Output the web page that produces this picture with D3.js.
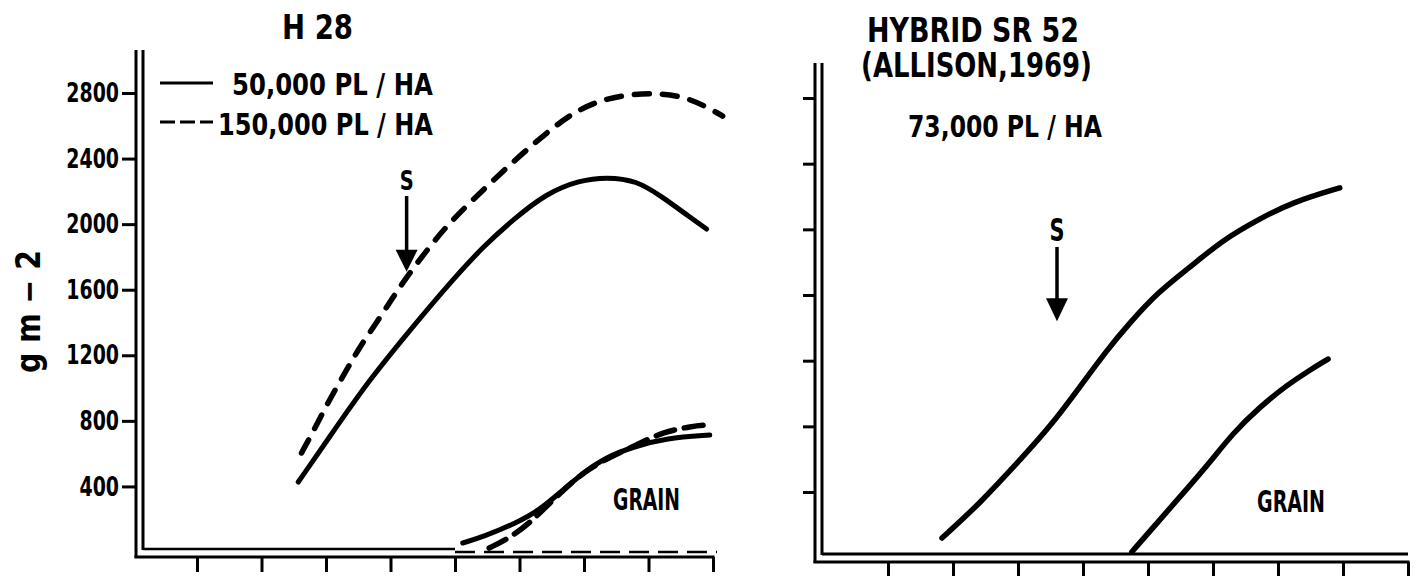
<!DOCTYPE html>
<html><head><meta charset="utf-8">
<script src="https://cdn.jsdelivr.net/npm/d3@7"></script>
<style>body{margin:0;background:#fff}</style>
</head><body>
<svg id="c" width="1428" height="579"></svg>
<script>
// ---------- data ----------
const yTicks = [400, 800, 1200, 1600, 2000, 2400, 2800];
const yTickLabels = ["400", "800", "1200", "1600", "2000", "2400", "2800"];
const xTicks = [1, 2, 3, 4, 5, 6, 7, 8, 9];

// H 28 panel — total dry matter
const h28Total50T = [2.57, 3.16, 3.67, 4.34, 4.96, 5.43, 5.89, 6.42, 6.93, 7.35, 7.81, 8.22, 8.64, 8.9];
const h28Total50V = [427, 762, 1049, 1372, 1659, 1860, 2024, 2189, 2268, 2287, 2268, 2165, 2043, 1970];
const h28Total150T = [2.62, 2.79, 3.05, 3.32, 3.52, 3.78, 4.03, 4.25, 4.6, 4.91, 5.27, 5.64, 6.05, 6.47, 6.82, 7.24, 7.71, 8.22, 8.64, 9.05, 9.15];
const h28Total150V = [604, 726, 927, 1110, 1250, 1396, 1549, 1677, 1860, 2006, 2146, 2285, 2433, 2573, 2677, 2756, 2793, 2799, 2768, 2683, 2659];
// H 28 panel — grain
const h28Grain50T = [5.12, 5.43, 5.95, 6.31, 6.62, 6.98, 7.35, 7.75, 8.28, 8.95];
const h28Grain50V = [55, 91, 177, 256, 360, 482, 579, 640, 695, 713];
const h28Grain150T = [5.53, 5.84, 6.16, 6.47, 6.73, 7.04, 7.4, 7.81, 8.22, 8.68, 8.9];
const h28Grain150V = [24, 85, 177, 299, 396, 500, 579, 652, 732, 768, 774];

// SR 52 panel (73,000 pl/ha)
const sr52TotalT = [1.83, 2.42, 3.03, 3.49, 3.95, 4.37, 4.72, 5.14, 5.65, 6.15, 6.68, 7.23, 7.95];
const sr52TotalV = [120, 333, 595, 796, 1039, 1266, 1430, 1613, 1771, 1935, 2057, 2167, 2253];
const sr52GrainT = [4.75, 5.18, 5.6, 5.95, 6.31, 6.72, 7.14, 7.49, 7.77];
const sr52GrainV = [35, 230, 420, 580, 760, 918, 1052, 1143, 1210];

// silking arrows (time, value at arrow tip)
const silkH28 = [4.25, 1710];
const silkSR52 = [3.6, 1440];

const legendLabels = ["50,000 PL / HA", "150,000 PL / HA"];

// ---------- drawing ----------
const FONT = "'DejaVu Sans Condensed','Liberation Sans Narrow',sans-serif";
const svg = d3.select("#c");
svg.append("rect").attr("width", 1428).attr("height", 579).attr("fill", "#fff");

const xL = d3.scaleLinear([0, 9], [132.5, 713]);
const yL = d3.scaleLinear([0, 2800], [552, 93]);
const xR = d3.scaleLinear([0, 9], [823, 1408]);
const yR = d3.scaleLinear([0, 2800], [557.7, 98]);

// text drawn at its natural size, then squeezed horizontally to the lettering's width
function txt(x, y, s, size, width, anchor, rot) {
  const t = svg.append("text").attr("x", 0).attr("y", 0).text(s)
    .attr("font-family", FONT).attr("font-weight", "bold")
    .attr("font-size", size).attr("fill", "#000")
    .attr("text-anchor", anchor || "start");
  const w = t.node().getComputedTextLength();
  const sx = width ? width / w : 1;
  t.attr("transform", `translate(${x},${y})` + (rot ? ` rotate(${rot})` : "") + ` scale(${sx},1)`);
  return t;
}
function seg(x1, y1, x2, y2, w, dash) {
  const l = svg.append("line").attr("x1", x1).attr("y1", y1).attr("x2", x2).attr("y2", y2)
    .attr("stroke", "#000").attr("stroke-width", w || 3);
  if (dash) l.attr("stroke-dasharray", dash);
  return l;
}
function styleAxis(g) {
  g.select(".domain").remove();
  g.selectAll(".tick line").attr("stroke", "#000").attr("stroke-width", 3);
  g.selectAll(".tick text").attr("font-family", FONT).attr("font-weight", "bold")
    .attr("font-size", 27).attr("fill", "#000")
    .each(function () {
      const t = d3.select(this);
      const x = +t.attr("x");
      t.attr("x", 0).attr("transform", `translate(${x},0) scale(0.78,1)`);
    });
}

// ---- left panel axes ----
styleAxis(svg.append("g").attr("transform", "translate(136,0)")
  .call(d3.axisLeft(yL).tickValues(yTicks).tickSize(14).tickPadding(3)
    .tickFormat((d, i) => yTickLabels[i])));
styleAxis(svg.append("g").attr("transform", "translate(0,557)")
  .call(d3.axisBottom(xL).tickValues(xTicks).tickSize(15).tickFormat("")));
seg(136, 50, 136, 558);
seg(143, 50, 143, 550);
seg(134.5, 557, 714.5, 557);
seg(143, 549, 455, 549, 2.5);
seg(455, 552, 717, 552, 2.5, "20,9");

// ---- right panel axes ----
styleAxis(svg.append("g").attr("transform", "translate(815,0)")
  .call(d3.axisLeft(yR).tickValues(yTicks).tickSize(12).tickFormat("")));
styleAxis(svg.append("g").attr("transform", "translate(0,562)")
  .call(d3.axisBottom(xR).tickValues(xTicks).tickSize(14).tickFormat("")));
seg(815, 63, 815, 563);
seg(822, 63, 822, 555);
seg(813.5, 562, 1409.5, 562);
seg(822, 554, 1408, 554);

// ---- curves ----
function drawCurve(T, V, xs, ys, width, dash) {
  const pts = T.map((t, i) => [t, V[i]]);
  const line = d3.line().x(d => xs(d[0])).y(d => ys(d[1])).curve(d3.curveBasis);
  const p = svg.append("path").attr("d", line(pts)).attr("fill", "none")
    .attr("stroke", "#000").attr("stroke-width", width)
    .attr("stroke-linecap", "round").attr("stroke-linejoin", "round");
  if (dash) p.attr("stroke-dasharray", dash);
}
drawCurve(h28Total50T, h28Total50V, xL, yL, 5);
drawCurve(h28Total150T, h28Total150V, xL, yL, 5.5, "15,13");
drawCurve(h28Grain50T, h28Grain50V, xL, yL, 5);
drawCurve(h28Grain150T, h28Grain150V, xL, yL, 5.5, "19,10");
drawCurve(sr52TotalT, sr52TotalV, xR, yR, 5.5);
drawCurve(sr52GrainT, sr52GrainV, xR, yR, 5.5);

// ---- silking arrows ----
function arrow(xs, ys, s, top, headLen, headW, size, sw) {
  const x = xs(s[0]), tip = ys(s[1]);
  txt(x, top - 6, "S", size, sw, "middle");
  seg(x, top, x, tip - headLen + 2, 3.5);
  svg.append("path")
    .attr("d", `M${x - headW / 2},${tip - headLen} L${x + headW / 2},${tip - headLen} L${x},${tip} Z`)
    .attr("fill", "#000");
}
arrow(xL, yL, silkH28, 196, 22, 22, 27, 14);
arrow(xR, yR, silkSR52, 247, 23, 22, 32, 15);

// ---- texts ----
txt(317.5, 39, "H 28", 33, 71, "middle");
seg(160, 83, 213, 83, 3);
seg(160, 122, 213, 122, 3, "15,5");
txt(232, 95, legendLabels[0], 30, 201);
txt(218, 135, legendLabels[1], 30, 215);
txt(646.5, 510, "GRAIN", 31, 67, "middle");

txt(973, 42, "HYBRID SR 52", 33, 212, "middle");
txt(976.5, 77, "(ALLISON,1969)", 33, 231, "middle");
txt(908, 137, "73,000 PL / HA", 31, 194);
txt(1291, 512, "GRAIN", 31, 68, "middle");

// y label (rotated; "width" is its vertical extent)
txt(40, 311.5, "g m − 2", 33, 123, "middle", -90);
</script>
</body></html>
